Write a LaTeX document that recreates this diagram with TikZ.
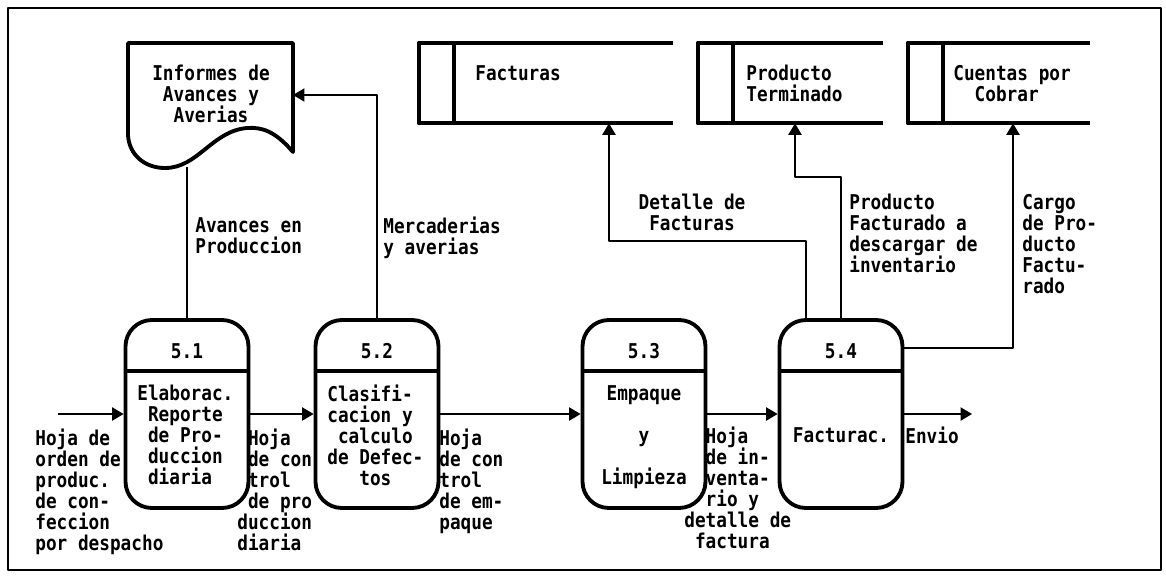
\documentclass[tikz,border=0pt]{standalone}
\usepackage{fontspec}
\setmonofont[FakeStretch=0.87]{DejaVu Sans Mono}
\usetikzlibrary{arrows.meta}
\newcommand{\dfdfont}{\ttfamily\bfseries\fontsize{11.6}{11.95}\selectfont}
\newcommand{\ind}{\hphantom{x}}

\begin{document}
\begin{tikzpicture}[x=0.02cm,y=-0.02cm,line join=round,
  txt/.style={font=\dfdfont,inner sep=0pt,execute at begin node=\strut},
  num/.style={font=\dfdfont,inner sep=0pt},
  proc/.style={draw,line width=2.2pt,rounded corners=15pt,minimum width=2.46cm,minimum height=3.76cm,inner sep=0pt},
  store/.style={minimum height=1.6cm,inner sep=0pt},
  heavy/.style={line width=2.2pt},
  flow/.style={line width=0.85pt,-{Triangle[length=6.5pt,width=7.5pt]}},
  link/.style={line width=0.85pt}]
\useasboundingbox (0,0) rectangle (1166,579);
\draw[link] (8,8) rectangle (1161,570);

% procesos
\node[proc] (p1) at (187,414) {};
\node[proc] (p2) at (377,414) {};
\node[proc] (p3) at (644,414) {};
\node[proc] (p4) at (841,414) {};
\foreach \p/\n in {p1/5.1,p2/5.2,p3/5.3,p4/5.4}{
  \draw[heavy] (\p.west |- 0,371) -- (\p.east |- 0,371);
  \node[num] (\p-num) at (\p |- 0,351) {\n};
}
\node[txt,anchor=north west,align=left] (t1) at (137,385) {Elaborac.\\\ind Reporte\\\ind de Pro-\\\ind duccion\\\ind diaria};
\node[txt,anchor=north west,align=left] (t2) at (327,385) {Clasifi-\\cacion y\\\ind calculo\\de Defec-\\\ind\ind\ind tos};
\node[txt,anchor=north,align=center] (t3) at (644,385) {Empaque\\[11.95pt]y\\[11.95pt]Limpieza};
\node[txt,anchor=north] (t4) at (841,427) {Facturac.};

% documento
\draw[heavy] (128,43) -- (293,43) -- (293,152) .. controls (275,131) and (262,127) .. (247,128)
  .. controls (212,131) and (198,168) .. (165,168) .. controls (145,168) and (129,155) .. (128,135) -- cycle;
\coordinate (docR) at (293,95);
\coordinate (docB) at (187,167);
\node[txt,align=center,anchor=north] (doc) at (211,65) {Informes de\\Avances y\\Averias};

% almacenes
\node[store,minimum width=5.08cm] (s1) at (546,83) {};
\node[store,minimum width=3.7cm] (s2) at (790.5,83) {};
\node[store,minimum width=3.64cm] (s3) at (999,83) {};
\foreach \s in {s1,s2,s3}{
  \draw[heavy] (\s.north east) -- (\s.north west) -- (\s.south west) -- (\s.south east);
  \draw[heavy] ([xshift=0.7cm]\s.north west) -- ([xshift=0.7cm]\s.south west);
}
\node[txt,anchor=north west] (s1t) at (475,65) {Facturas};
\node[txt,anchor=north west,align=left] (s2t) at (746,65) {Producto\\Terminado};
\node[txt,anchor=north west,align=left] (s3t) at (953,65) {Cuentas por\\\ind\ind Cobrar};

% flujos
\coordinate (in) at (58,414);
\coordinate (out) at (972,414);
\draw[flow] (in) -- (p1);
\draw[flow] (p1) -- (p2);
\draw[flow] (p2) -- (p3);
\draw[flow] (p3) -- (p4);
\draw[flow] (p4) -- (out);
\draw[link] (p1) -- (docB);
\draw[flow] (p2.north) |- (docR);
\draw[flow] ([xshift=-0.7cm]p4.north) -- ++(0,-77) -| ([xshift=1.26cm]s1.south);
\draw[flow] (p4.north) -- ++(0,-141) -| ([xshift=0.09cm]s2.south);
\draw[flow] ([yshift=1.32cm]p4.east) -| ([xshift=0.28cm]s3.south);

\node[txt,anchor=north west,align=left] (f0) at (35,429) {Hoja de\\orden de\\produc.\\de con-\\feccion\\por despacho};
\node[txt,anchor=north west,align=left] (f1) at (237,429) {\ind Hoja\\\ind de con\\\ind trol\\\ind de pro\\duccion\\diaria};
\node[txt,anchor=north west,align=left] (f2) at (439,429) {Hoja\\de con\\trol\\de em-\\paque};
\node[txt,anchor=north west,align=left] (f3) at (684,427) {\ind\ind Hoja\\\ind\ind de in-\\\ind\ind venta-\\\ind\ind rio y\\detalle de\\\ind factura};
\node[txt,anchor=north west] (f4) at (905,427) {Envio};
\node[txt,anchor=north west,align=left] (f5) at (195,217) {Avances en\\Produccion};
\node[txt,anchor=north west,align=left] (f6) at (383,217) {Mercaderias\\y averias};
\node[txt,anchor=north,align=center] (f7) at (692,194) {Detalle de\\Facturas};
\node[txt,anchor=north west,align=left] (f8) at (849,194) {Producto\\Facturado a\\descargar de\\inventario};
\node[txt,anchor=north west,align=left] (f9) at (1022,194) {Cargo\\de Pro-\\ducto\\Factu-\\rado};
\end{tikzpicture}
\end{document}
